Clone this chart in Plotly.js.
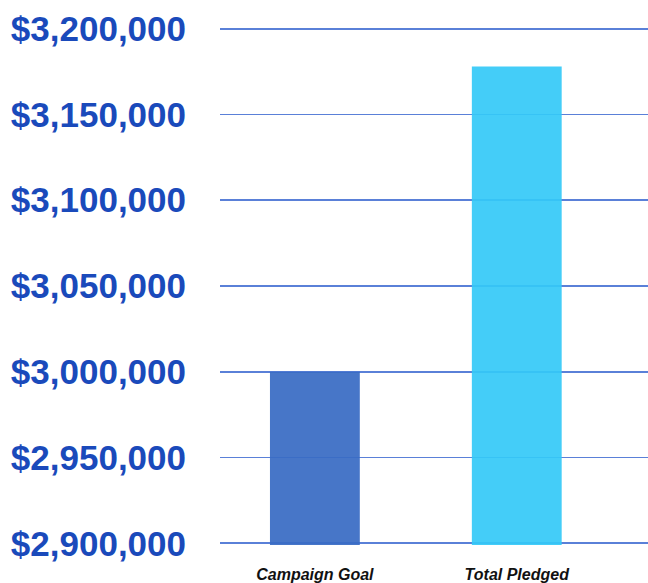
<!DOCTYPE html>
<html>
<head>
<meta charset="utf-8">
<script src="https://cdn.plot.ly/plotly-3.0.1.min.js"></script>
<style>html,body{margin:0;padding:0;background:#fff;}#chart{width:648px;height:583px;}</style>
</head>
<body>
<div id="chart"></div>
<script>
const categories = ["Campaign Goal", "Total Pledged"];
const values = [3000000, 3178000];
const barColors = ["rgba(57,108,196,0.93)", "rgba(52,201,247,0.92)"];
const tickValues = [2900000, 2950000, 3000000, 3050000, 3100000, 3150000, 3200000];
const tickLabels = ["$2,900,000", "$2,950,000", "$3,000,000", "$3,050,000", "$3,100,000", "$3,150,000", "$3,200,000"];

const data = [{
  type: "bar",
  x: categories,
  y: values,
  width: 0.445,
  marker: { color: barColors, line: { width: 0 } },
  hoverinfo: "none"
}];

const layout = {
  width: 648,
  height: 583,
  margin: { l: 220, r: 0, t: 27, b: 38 },
  paper_bgcolor: "#ffffff",
  plot_bgcolor: "#ffffff",
  showlegend: false,
  xaxis: {
    type: "category",
    range: [-0.47, 1.65],
    showgrid: false,
    zeroline: false,
    showline: false,
    ticks: "",
    ticklabelstandoff: 18,
    tickfont: { family: "Liberation Sans, Arial, sans-serif", size: 16, color: "#111111", weight: "bold", style: "italic" }
  },
  yaxis: {
    range: [2899000, 3201000],
    tickvals: tickValues,
    ticktext: tickLabels,
    showgrid: true,
    gridcolor: "#5a80d8",
    gridwidth: 1.6,
    zeroline: false,
    showline: false,
    ticks: "",
    ticklabelstandoff: 33,
    tickfont: { family: "Liberation Sans, Arial, sans-serif", size: 35, color: "#1a4abb", weight: "bold" }
  }
};

Plotly.newPlot("chart", data, layout, { displayModeBar: false, staticPlot: true });
</script>
</body>
</html>
